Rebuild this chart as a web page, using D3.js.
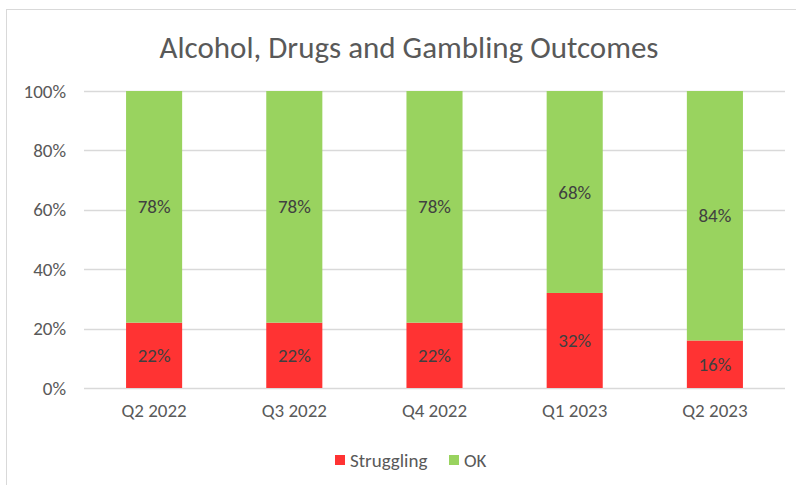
<!DOCTYPE html>
<html>
<head>
<meta charset="utf-8">
<script src="https://cdn.jsdelivr.net/npm/d3@7"></script>
<style>
  body { margin: 0; background: #fff; }
  svg, svg text { font-family: Carlito, Lato, "Open Sans", sans-serif; }
  .axis text { fill: #595959; font-size: 19px; font-family: Carlito, Lato, sans-serif; }
  .axis path, .axis line { display: none; }
</style>
</head>
<body>
<svg width="796" height="485"></svg>
<script>
// chart values
var quarters = ['Q2 2022', 'Q3 2022', 'Q4 2022', 'Q1 2023', 'Q2 2023'];
var struggling = [22, 22, 22, 32, 16];
var ok = [78, 78, 78, 68, 84];
var yTicks = [0, 20, 40, 60, 80, 100];
var seriesNames = ['Struggling', 'OK'];
var seriesColors = ['#ff3333', '#99d35f'];

var svg = d3.select('svg');
var padding = {t: 91, r: 11, b: 97, l: 84};
var chartWidth = 796 - padding.l - padding.r;
var chartHeight = 485 - padding.t - padding.b;

// outer chart border
svg.append('rect')
    .attr('x', 6.5).attr('y', 9.5)
    .attr('width', 800).attr('height', 490)
    .attr('fill', 'none')
    .attr('stroke', '#d9d9d9');

svg.append('text')
    .attr('x', 409).attr('y', 58)
    .attr('text-anchor', 'middle')
    .attr('fill', '#595959')
    .style('font-size', '31px')
    .text('Alcohol, Drugs and Gambling Outcomes');

var g = svg.append('g')
    .attr('transform', 'translate(' + [padding.l, padding.t] + ')');

var xScale = d3.scaleBand().domain(quarters).range([0, chartWidth]).paddingInner(0.6).paddingOuter(0.3);
var yScale = d3.scaleLinear().domain([0, 100]).range([chartHeight, 0]);

// gridlines
g.selectAll('.grid')
    .data(yTicks)
    .enter()
    .append('line')
    .attr('x1', 0).attr('x2', chartWidth)
    .attr('y1', function(d) { return Math.round(yScale(d)) + 0.5; })
    .attr('y2', function(d) { return Math.round(yScale(d)) + 0.5; })
    .attr('stroke', '#d9d9d9')
    .attr('stroke-width', 1.5);

g.append('g').attr('class', 'axis')
    .call(d3.axisLeft(yScale).tickValues(yTicks).tickFormat(function(d) { return d + '%'; }).tickSize(0).tickPadding(18));

g.append('g').attr('class', 'axis')
    .attr('transform', 'translate(0,' + chartHeight + ')')
    .call(d3.axisBottom(xScale).tickSize(0).tickPadding(16));

var rows = quarters.map(function(q, i) {
    return {quarter: q, Struggling: struggling[i], OK: ok[i]};
});
var stacked = d3.stack().keys(seriesNames)(rows);

var layers = g.selectAll('.layer')
    .data(stacked)
    .enter()
    .append('g')
    .attr('fill', function(d, i) { return seriesColors[i]; });

layers.selectAll('rect')
    .data(function(d) { return d; })
    .enter()
    .append('rect')
    .attr('x', function(d) { return xScale(d.data.quarter); })
    .attr('width', xScale.bandwidth())
    .attr('y', function(d) { return yScale(d[1]); })
    .attr('height', function(d) { return yScale(d[0]) - yScale(d[1]); });

layers.selectAll('.lbl')
    .data(function(d) { return d; })
    .enter()
    .append('text')
    .attr('x', function(d) { return xScale(d.data.quarter) + xScale.bandwidth() / 2; })
    .attr('y', function(d) { return (yScale(d[0]) + yScale(d[1])) / 2; })
    .attr('dy', '0.35em')
    .attr('text-anchor', 'middle')
    .attr('fill', '#404040')
    .style('font-size', '19px')
    .text(function(d) { return (d[1] - d[0]) + '%'; });

// legend
var legendX = [335, 449];
var legend = svg.selectAll('.legend')
    .data(seriesNames)
    .enter()
    .append('g')
    .attr('transform', function(d, i) { return 'translate(' + [legendX[i], 460] + ')'; });

legend.append('rect')
    .attr('x', 0).attr('y', -5)
    .attr('width', 10).attr('height', 10)
    .attr('fill', function(d, i) { return seriesColors[i]; });

legend.append('text')
    .attr('x', 15).attr('y', 0)
    .attr('dy', '0.35em')
    .attr('fill', '#595959')
    .style('font-size', '19px')
    .text(function(d) { return d; });
</script>
</body>
</html>
